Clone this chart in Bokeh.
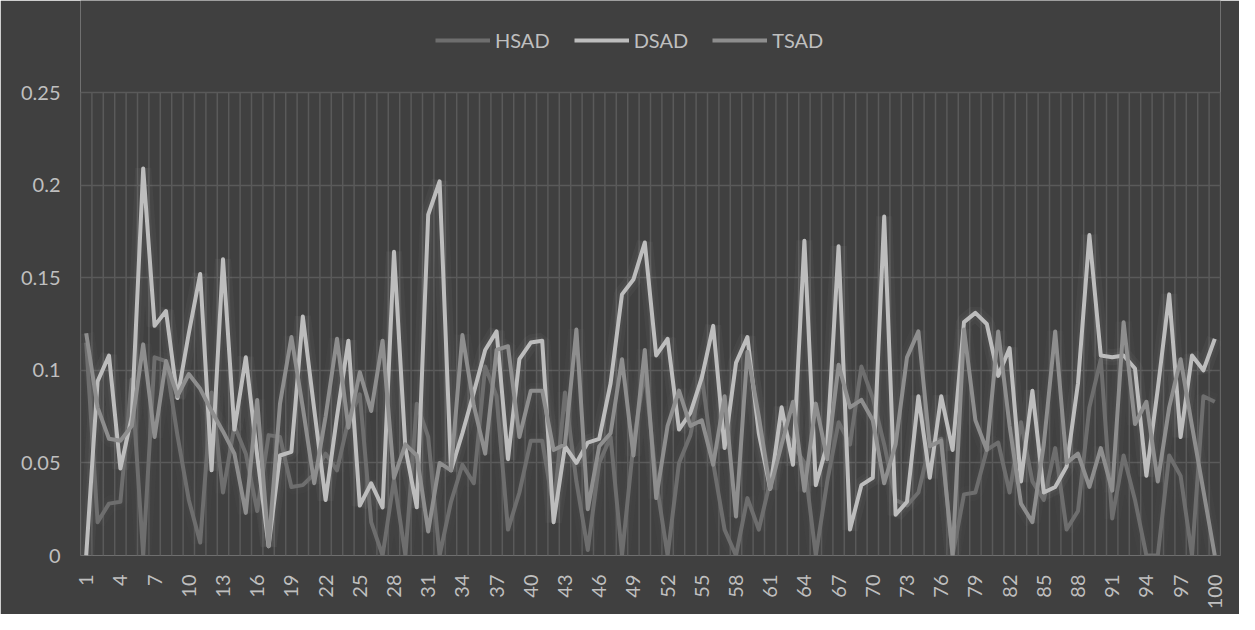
from bokeh.plotting import figure
from bokeh.models import (ColumnDataSource, FixedTicker, Legend, LegendItem,
                          CustomJSTickFormatter)
from bokeh.embed import file_html
from bokeh.resources import INLINE
import math

categories = list(range(1, 101))

hsad = [0.115, 0.018, 0.028, 0.029, 0.095, 0.000, 0.107, 0.105, 0.065, 0.030,
        0.007, 0.088, 0.034, 0.070, 0.055, 0.024, 0.065, 0.064, 0.037, 0.038,
        0.044, 0.055, 0.046, 0.073, 0.087, 0.018, 0.000, 0.041, 0.000, 0.082,
        0.064, 0.000, 0.029, 0.049, 0.039, 0.102, 0.086, 0.014, 0.034, 0.062,
        0.062, 0.025, 0.088, 0.040, 0.003, 0.050, 0.064, 0.000, 0.060, 0.100,
        0.040, 0.000, 0.050, 0.065, 0.097, 0.050, 0.014, 0.000, 0.031, 0.014,
        0.040, 0.070, 0.060, 0.050, 0.000, 0.040, 0.072, 0.060, 0.102, 0.085,
        0.060, 0.030, 0.027, 0.034, 0.060, 0.063, 0.000, 0.033, 0.034, 0.057,
        0.061, 0.034, 0.072, 0.040, 0.030, 0.058, 0.014, 0.024, 0.080, 0.106,
        0.020, 0.054, 0.030, 0.000, 0.000, 0.054, 0.043, 0.000, 0.086, 0.083]

dsad = [0.000, 0.094, 0.108, 0.047, 0.075, 0.209, 0.124, 0.132, 0.085, 0.120,
        0.152, 0.046, 0.160, 0.068, 0.107, 0.054, 0.005, 0.054, 0.056, 0.129,
        0.079, 0.030, 0.075, 0.116, 0.027, 0.039, 0.026, 0.164, 0.058, 0.026,
        0.184, 0.202, 0.046, 0.066, 0.088, 0.111, 0.121, 0.052, 0.106, 0.115,
        0.116, 0.018, 0.059, 0.050, 0.061, 0.063, 0.093, 0.141, 0.149, 0.169,
        0.108, 0.117, 0.068, 0.077, 0.096, 0.124, 0.058, 0.104, 0.118, 0.066,
        0.036, 0.080, 0.049, 0.170, 0.038, 0.060, 0.167, 0.014, 0.038, 0.042,
        0.183, 0.022, 0.029, 0.086, 0.042, 0.086, 0.057, 0.126, 0.131, 0.125,
        0.097, 0.112, 0.040, 0.089, 0.034, 0.037, 0.048, 0.093, 0.173, 0.108,
        0.107, 0.108, 0.101, 0.043, 0.090, 0.141, 0.064, 0.108, 0.100, 0.117]

tsad = [0.120, 0.080, 0.063, 0.062, 0.070, 0.114, 0.064, 0.105, 0.086, 0.098,
        0.090, 0.078, 0.067, 0.055, 0.023, 0.084, 0.005, 0.082, 0.118, 0.080,
        0.039, 0.075, 0.117, 0.069, 0.099, 0.078, 0.116, 0.042, 0.060, 0.054,
        0.013, 0.050, 0.046, 0.119, 0.081, 0.055, 0.111, 0.113, 0.064, 0.089,
        0.089, 0.057, 0.060, 0.122, 0.025, 0.059, 0.066, 0.106, 0.054, 0.111,
        0.031, 0.070, 0.089, 0.070, 0.073, 0.049, 0.086, 0.021, 0.110, 0.075,
        0.036, 0.060, 0.083, 0.035, 0.082, 0.052, 0.103, 0.080, 0.084, 0.073,
        0.039, 0.060, 0.107, 0.121, 0.059, 0.062, 0.000, 0.122, 0.073, 0.057,
        0.121, 0.070, 0.028, 0.018, 0.060, 0.121, 0.050, 0.055, 0.037, 0.058,
        0.035, 0.126, 0.071, 0.083, 0.040, 0.080, 0.106, 0.070, 0.035, 0.000]

series_names = ["HSAD", "DSAD", "TSAD"]
series_values = [hsad, dsad, tsad]
series_colors = ["#6e6e6e", "#bdbdbd", "#8e8e8e"]

x_ticks = list(range(1, 101, 3))
y_ticks = [0, 0.05, 0.1, 0.15, 0.2, 0.25]
Y_MAX = 0.25

BG = "#404040"
GRID = "#5a5a5a"
TXT = "#bfbfbf"
FONT = "Lato"

# frame reaches to the top of the chart so the legend can sit inside it;
# the value axis (0..0.25) occupies the lower 463 px of the 555 px frame
p = figure(width=1239, height=614, output_backend="svg", toolbar_location=None,
           x_range=(0.5, 100.5), y_range=(0, Y_MAX * 555 / 463),
           min_border_left=80, min_border_right=19, min_border_top=0,
           min_border_bottom=59, outline_line_color=BG)
p.background_fill_color = BG
p.border_fill_color = BG
p.outline_line_alpha = 0

p.xaxis.ticker = FixedTicker(ticks=x_ticks)
p.yaxis.ticker = FixedTicker(ticks=y_ticks)
p.yaxis.formatter = CustomJSTickFormatter(
    code="return tick.toFixed(2).replace(/\\.?0+$/, '');")
for ax in (p.xaxis[0], p.yaxis[0]):
    ax.axis_line_color = None
    ax.major_tick_line_color = None
    ax.minor_tick_line_color = None
    ax.major_tick_out = 0
    ax.major_label_text_color = TXT
    ax.major_label_text_font = FONT
    ax.major_label_text_font_size = "20px"
p.xaxis.major_label_orientation = math.pi / 2
p.xaxis.major_label_standoff = 19
p.yaxis.major_label_standoff = 20

# grid: horizontal at value ticks, vertical at category boundaries
p.xgrid.grid_line_color = None
p.ygrid.grid_line_color = GRID
p.ygrid.grid_line_width = 1.5
p.ygrid.ticker = FixedTicker(ticks=y_ticks)
bounds = [c - 0.5 for c in categories] + [categories[-1] + 0.5]
p.segment(x0=bounds, y0=[0] * len(bounds), x1=bounds, y1=[Y_MAX] * len(bounds),
          line_color=GRID, line_width=1.5)

# soft glow under the lines
for vals, col in zip(series_values, series_colors):
    src = ColumnDataSource(dict(x=categories, y=vals))
    p.line("x", "y", source=src, line_color=col, line_width=16, line_alpha=0.05)
    p.line("x", "y", source=src, line_color=col, line_width=9, line_alpha=0.06)

items = []
for name, vals, col in zip(series_names, series_values, series_colors):
    src = ColumnDataSource(dict(x=categories, y=vals))
    r = p.line("x", "y", source=src, line_color=col, line_width=4,
               line_join="round")
    items.append(LegendItem(label=name, renderers=[r]))

legend = Legend(items=items, orientation="horizontal",
                location=(355, 503), glyph_width=55, glyph_height=22,
                label_standoff=5, spacing=24, padding=0, margin=0,
                label_text_font=FONT, label_text_font_size="20px",
                label_text_color=TXT, background_fill_color=None,
                border_line_color=None)
p.add_layout(legend, "center")

open("out.html", "w").write(file_html(p, INLINE))
